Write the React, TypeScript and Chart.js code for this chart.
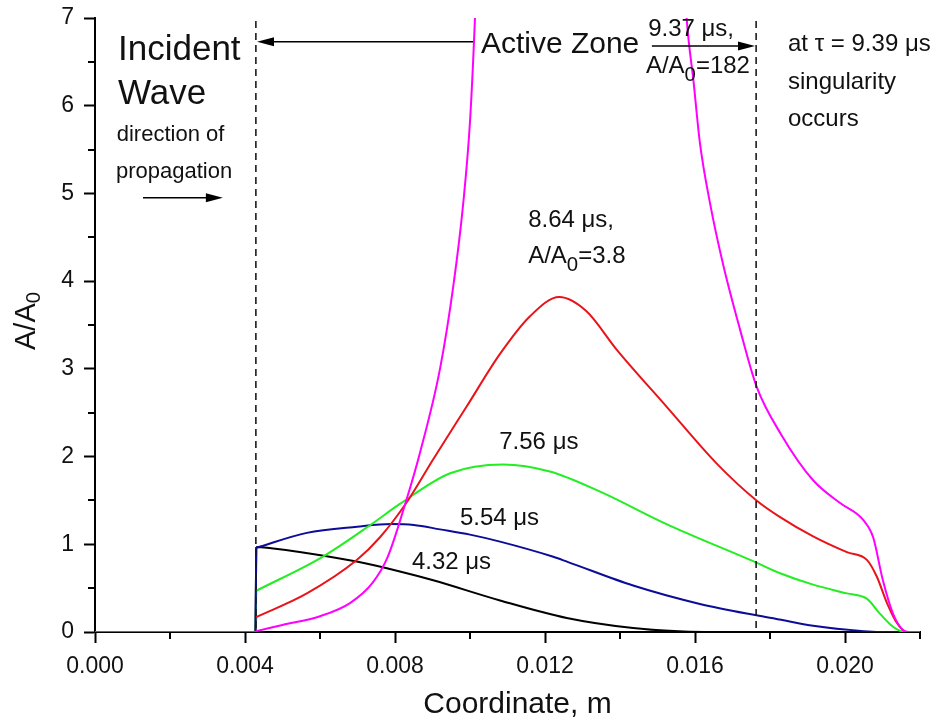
import { useEffect, useRef } from 'react';
import { Chart, registerables } from 'chart.js';

Chart.register(...registerables);

const FONT = '"Liberation Sans", Arial, Helvetica, sans-serif';

// ---- data (coordinate in m, amplitude A/A0) ----
// quiet region ahead of the front, then the front itself
const frontX = [0, 0.00428, 0.0043];

const magentaX = [0.0043, 0.005, 0.006, 0.0068, 0.0074, 0.0078, 0.0083, 0.00867, 0.0092, 0.00956, 0.00982, 0.01, 0.01013, 0.0105, 0.0129, 0.0153, 0.01579, 0.01596, 0.01613, 0.0164, 0.01675, 0.0172, 0.01764, 0.0183, 0.01915, 0.01987, 0.02048, 0.02075, 0.02101, 0.02128, 0.02155, 0.0217, 0.022];
const magentaY = [0.01, 0.08, 0.18, 0.33, 0.56, 0.85, 1.50, 2.05, 3.0, 3.96, 4.89, 5.82, 6.97, 12, 182, 12, 6.93, 6.28, 5.58, 4.89, 4.19, 3.45, 2.80, 2.25, 1.73, 1.47, 1.28, 1.08, 0.59, 0.21, 0.02, 0, 0];

const redX = [0.0043, 0.00565, 0.00698, 0.0076, 0.0083, 0.00902, 0.00991, 0.0108, 0.0116, 0.01238, 0.0131, 0.01391, 0.01524, 0.01658, 0.01764, 0.01827, 0.01915, 0.02005, 0.02059, 0.02085, 0.02112, 0.02139, 0.02165, 0.022];
const redY = [0.17, 0.44, 0.82, 1.08, 1.47, 1.97, 2.57, 3.17, 3.60, 3.82, 3.66, 3.22, 2.57, 1.92, 1.50, 1.31, 1.09, 0.91, 0.82, 0.63, 0.33, 0.10, 0, 0];

const greenX = [0.0043, 0.00608, 0.00741, 0.00813, 0.00947, 0.01088, 0.01213, 0.01347, 0.01524, 0.01764, 0.01827, 0.01915, 0.02005, 0.02058, 0.02093, 0.02128, 0.0216, 0.022];
const greenY = [0.47, 0.86, 1.24, 1.46, 1.81, 1.91, 1.83, 1.60, 1.23, 0.79, 0.67, 0.54, 0.44, 0.38, 0.21, 0.06, 0, 0];

const blueX = [0.0043, 0.00565, 0.00699, 0.0079, 0.0085, 0.0092, 0.0100, 0.0108, 0.0122, 0.0126, 0.01435, 0.01613, 0.01764, 0.0183, 0.01915, 0.0205, 0.0212, 0.022];
const blueY = [0.96, 1.13, 1.20, 1.23, 1.22, 1.17, 1.11, 1.03, 0.86, 0.80, 0.53, 0.32, 0.19, 0.14, 0.07, 0.01, 0, 0];

const blackX = [0.0043, 0.0047, 0.0055, 0.00701, 0.00813, 0.00902, 0.0108, 0.01258, 0.01435, 0.0157, 0.0165, 0.022];
const blackY = [0.97, 0.955, 0.91, 0.80, 0.69, 0.59, 0.36, 0.16, 0.045, 0.005, 0, 0];

// ---- axes ----
const xMin = 0;
const xMax = 0.022;
const xMajorStep = 0.004;
const xMinorTicks = [0.002, 0.006, 0.010, 0.014, 0.018, 0.022];
const yMin = 0;
const yMax = 7;
const yMajorStep = 1;
const yMinorTicks = [0.5, 1.5, 2.5, 3.5, 4.5, 5.5, 6.5];

// active zone boundaries (m)
const zoneLines = [0.00429, 0.01763];

type Part = { t: string; sub?: boolean };
type Note = { x: number; y: number; size: number; parts: Part[] };

const notes: Note[] = [
  { x: 0.000613, y: 6.67, size: 35, parts: [{ t: 'Incident' }] },
  { x: 0.000613, y: 6.16, size: 35, parts: [{ t: 'Wave' }] },
  { x: 0.00058, y: 5.69, size: 22, parts: [{ t: 'direction of' }] },
  { x: 0.00056, y: 5.27, size: 22, parts: [{ t: 'propagation' }] },
  { x: 0.01029, y: 6.72, size: 30, parts: [{ t: 'Active Zone' }] },
  { x: 0.01475, y: 6.89, size: 24, parts: [{ t: '9.37 μs,' }] },
  { x: 0.01469, y: 6.47, size: 24, parts: [{ t: 'A/A' }, { t: '0', sub: true }, { t: '=182' }] },
  { x: 0.01848, y: 6.72, size: 24, parts: [{ t: 'at τ = 9.39 μs' }] },
  { x: 0.01848, y: 6.29, size: 24, parts: [{ t: 'singularity' }] },
  { x: 0.01848, y: 5.87, size: 24, parts: [{ t: 'occurs' }] },
  { x: 0.01155, y: 4.72, size: 24, parts: [{ t: '8.64 μs,' }] },
  { x: 0.01155, y: 4.31, size: 24, parts: [{ t: 'A/A' }, { t: '0', sub: true }, { t: '=3.8' }] },
  { x: 0.01078, y: 2.19, size: 24, parts: [{ t: '7.56 μs' }] },
  { x: 0.00973, y: 1.32, size: 24, parts: [{ t: '5.54 μs' }] },
  { x: 0.00845, y: 0.82, size: 24, parts: [{ t: '4.32 μs' }] },
];

type Arrow = { from: number; to: number; y: number };
const arrows: Arrow[] = [
  { from: 0.00128, to: 0.00341, y: 4.95 },
  { from: 0.01008, to: 0.00432, y: 6.73 },
  { from: 0.01485, to: 0.0176, y: 6.68 },
];

function zip(xs: number[], ys: number[]) {
  return xs.map((x, i) => ({ x, y: ys[i] }));
}

function drawRich(ctx: CanvasRenderingContext2D, parts: Part[], x: number, baseline: number, size: number) {
  let cx = x;
  for (const p of parts) {
    const fs = p.sub ? size * 0.85 : size;
    ctx.font = `${fs}px ${FONT}`;
    ctx.fillText(p.t, cx, baseline + (p.sub ? size * 0.34 : 0));
    cx += ctx.measureText(p.t).width;
  }
}

const overlay = {
  id: 'overlay',
  afterDatasetsDraw(chart: any) {
    const { ctx, chartArea } = chart;
    const xs = chart.scales.x;
    const ys = chart.scales.y;
    ctx.save();
    // zone boundaries
    ctx.strokeStyle = '#1a1a1a';
    ctx.lineWidth = 1.6;
    ctx.setLineDash([7, 5]);
    for (const v of zoneLines) {
      const px = xs.getPixelForValue(v);
      ctx.beginPath();
      ctx.moveTo(px, chartArea.top + 3);
      ctx.lineTo(px, chartArea.bottom);
      ctx.stroke();
    }
    ctx.setLineDash([]);
    // arrows
    ctx.strokeStyle = '#000';
    ctx.fillStyle = '#000';
    ctx.lineWidth = 1.4;
    for (const a of arrows) {
      const x1 = xs.getPixelForValue(a.from);
      const x2 = xs.getPixelForValue(a.to);
      const py = ys.getPixelForValue(a.y);
      const dir = Math.sign(x2 - x1);
      ctx.beginPath();
      ctx.moveTo(x1, py);
      ctx.lineTo(x2 - dir * 10, py);
      ctx.stroke();
      ctx.beginPath();
      ctx.moveTo(x2, py);
      ctx.lineTo(x2 - dir * 17, py - 4.5);
      ctx.lineTo(x2 - dir * 17, py + 4.5);
      ctx.closePath();
      ctx.fill();
    }
    // text notes
    ctx.fillStyle = '#111';
    ctx.textAlign = 'left';
    ctx.textBaseline = 'alphabetic';
    for (const n of notes) {
      const px = xs.getPixelForValue(n.x);
      const py = ys.getPixelForValue(n.y) + n.size * 0.36;
      drawRich(ctx, n.parts, px, py, n.size);
    }
    ctx.restore();
  },
  afterDraw(chart: any) {
    const { ctx, chartArea } = chart;
    const xs = chart.scales.x;
    const ys = chart.scales.y;
    ctx.save();
    ctx.strokeStyle = '#000';
    ctx.lineWidth = 2;
    for (const v of xMinorTicks) {
      const px = Math.round(xs.getPixelForValue(v));
      ctx.beginPath();
      ctx.moveTo(px, chartArea.bottom);
      ctx.lineTo(px, chartArea.bottom + 7);
      ctx.stroke();
    }
    for (const v of yMinorTicks) {
      const py = Math.round(ys.getPixelForValue(v));
      ctx.beginPath();
      ctx.moveTo(chartArea.left, py);
      ctx.lineTo(chartArea.left - 7, py);
      ctx.stroke();
    }
    // axis titles
    ctx.fillStyle = '#111';
    ctx.textBaseline = 'alphabetic';
    ctx.textAlign = 'center';
    ctx.font = `30px ${FONT}`;
    ctx.fillText('Coordinate, m', (chartArea.left + chartArea.right) / 2 + 10, 713);
    // y title rotated with subscript
    const size = 29;
    ctx.translate(35, (chartArea.top + chartArea.bottom) / 2 - 4);
    ctx.rotate(-Math.PI / 2);
    ctx.textAlign = 'left';
    ctx.font = `${size}px ${FONT}`;
    const wMain = ctx.measureText('A/A').width;
    ctx.font = `${size * 0.7}px ${FONT}`;
    const wSub = ctx.measureText('0').width;
    let cx = -(wMain + wSub) / 2;
    ctx.font = `${size}px ${FONT}`;
    ctx.fillText('A/A', cx, 0);
    cx += wMain;
    ctx.font = `${size * 0.7}px ${FONT}`;
    ctx.fillText('0', cx, 5);
    ctx.restore();
  },
};

export default function App() {
  const ref = useRef<HTMLCanvasElement>(null);
  useEffect(() => {
    const curve = (label: string, xsArr: number[], ysArr: number[], color: string) => ({
      label,
      data: zip(xsArr, ysArr),
      borderColor: color,
      backgroundColor: color,
      borderWidth: 2,
      pointRadius: 0,
      fill: false,
      cubicInterpolationMode: 'monotone' as const,
    });
    const front = (label: string, firstY: number, color: string) => ({
      label,
      data: zip(frontX, [0, 0, firstY]),
      borderColor: color,
      backgroundColor: color,
      borderWidth: 2,
      pointRadius: 0,
      fill: false,
      tension: 0,
    });
    const chart = new Chart(ref.current as HTMLCanvasElement, {
      type: 'line',
      data: {
        datasets: [
          front('9.37 μs front', magentaY[0], '#ff00ff'),
          curve('9.37 μs', magentaX, magentaY, '#ff00ff'),
          curve('8.64 μs', redX, redY, '#e8141a'),
          curve('7.56 μs', greenX, greenY, '#22ee22'),
          front('5.54 μs front', blueY[0], '#0c0c99'),
          curve('5.54 μs', blueX, blueY, '#0c0c99'),
          curve('4.32 μs', blackX, blackY, '#000000'),
          front('7.56 μs front', greenY[0], '#22ee22'),
          front('8.64 μs front', redY[0], '#e8141a'),
          front('4.32 μs front', blackY[0], '#000000'),
        ],
      },
      options: {
        responsive: false,
        animation: false,
        layout: { padding: { left: 0, right: 21, top: 18, bottom: 0 } },
        plugins: {
          legend: { display: false },
          tooltip: { enabled: false },
        },
        scales: {
          x: {
            type: 'linear',
            min: xMin,
            max: xMax,
            afterFit: (s: any) => {
              s.height = 90;
            },
            ticks: {
              stepSize: xMajorStep,
              includeBounds: false,
              autoSkip: false,
              maxRotation: 0,
              color: '#111',
              padding: 10,
              font: { family: FONT, size: 23 },
              callback: (v: any) => Number(v).toFixed(3),
            },
            grid: {
              drawOnChartArea: false,
              drawTicks: true,
              tickLength: 11,
              tickWidth: 2,
              tickColor: '#000',
            },
            border: { display: true, color: '#000', width: 2 },
          },
          y: {
            type: 'linear',
            min: yMin,
            max: yMax,
            afterFit: (s: any) => {
              s.width = 95;
              s.paddingTop = 0;
              s.paddingBottom = 0;
            },
            ticks: {
              stepSize: yMajorStep,
              color: '#111',
              padding: 10,
              font: { family: FONT, size: 23 },
            },
            grid: {
              drawOnChartArea: false,
              drawTicks: true,
              tickLength: 11,
              tickWidth: 2,
              tickColor: '#000',
            },
            border: { display: true, color: '#000', width: 2 },
          },
        },
      },
      plugins: [overlay],
    });
    return () => chart.destroy();
  }, []);
  return (
    <div style={{ position: 'fixed', left: 0, top: 0, width: 941, height: 722, background: '#fff' }}>
      <canvas ref={ref} width={941} height={722} style={{ display: 'block', width: 941, height: 722 }} />
    </div>
  );
}
